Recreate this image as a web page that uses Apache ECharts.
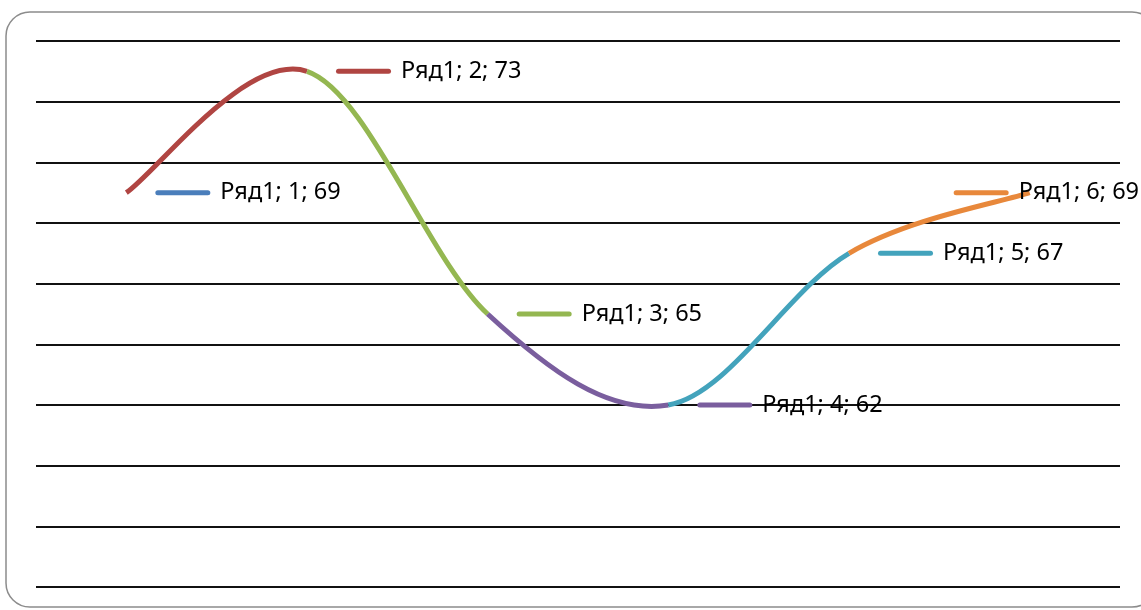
<!DOCTYPE html>
<html>
<head>
<meta charset="utf-8">
<script src="https://cdn.jsdelivr.net/npm/echarts@6/dist/echarts.min.js"></script>
<style>
  html, body { margin: 0; padding: 0; background: #ffffff; }
  #chart { width: 1141px; height: 610px; }
</style>
</head>
<body>
<div id="chart"></div>
<script>
// Series data
const seriesName = 'Ряд1';
const categories = ['1', '2', '3', '4', '5', '6'];
const values = [69, 73, 65, 62, 67, 69];
const pointColors = ['#4A7EBB', '#B04542', '#94B751', '#7A5E9E', '#43A3BC', '#E8883B'];

// Value axis range
const yMin = 56;
const yMax = 74;
const yStep = 2;

const chart = echarts.init(document.getElementById('chart'), null, { renderer: 'canvas' });

// Smoothed curve: one Bézier piece per pair of neighbouring points,
// tangents taken from the surrounding points (Catmull-Rom, factor 1/6).
// Each piece takes the colour of the point it ends on.
const SMOOTH_K = 1 / 6;
function renderSegment(params, api) {
  const i = params.dataIndex;
  if (i === 0) return null;
  const n = values.length;
  const pt = (j) => {
    const k = Math.max(0, Math.min(n - 1, j));
    return api.coord([api.value(0, k), api.value(1, k)]);
  };
  const p0 = pt(i - 2), p1 = pt(i - 1), p2 = pt(i), p3 = pt(i + 1);
  return {
    type: 'bezierCurve',
    shape: {
      x1: p1[0], y1: p1[1],
      cpx1: p1[0] + (p2[0] - p0[0]) * SMOOTH_K,
      cpy1: p1[1] + (p2[1] - p0[1]) * SMOOTH_K,
      cpx2: p2[0] - (p3[0] - p1[0]) * SMOOTH_K,
      cpy2: p2[1] - (p3[1] - p1[1]) * SMOOTH_K,
      x2: p2[0], y2: p2[1]
    },
    style: { stroke: pointColors[i], lineWidth: 5, fill: null, lineCap: 'butt' },
    silent: true
  };
}

// Data labels: colour key followed by "series; category; value"
const labelData = values.map((v, i) => {
  const item = {
    value: v,
    label: {
      rich: {
        k: {
          width: 55, height: 5, borderRadius: 3,
          backgroundColor: pointColors[i], verticalAlign: 'middle'
        },
        t: {
          fontFamily: 'Noto Sans', fontSize: 23.5, color: '#000',
          padding: [0, 0, 0, 10], verticalAlign: 'middle'
        }
      }
    }
  };
  if (i === values.length - 1) item.label.offset = [-105, 0];
  return item;
});

chart.setOption({
  animation: false,
  graphic: [{
    type: 'rect',
    shape: { x: 6, y: 12, width: 1150, height: 595, r: 24 },
    style: { fill: 'none', stroke: '#8c8c8c', lineWidth: 1.5 },
    silent: true,
    z: -1
  }],
  grid: { left: 36, right: 21, top: 41, bottom: 23, containLabel: false },
  xAxis: {
    type: 'category',
    data: categories,
    boundaryGap: true,
    axisLine: { show: false },
    axisTick: { show: false },
    axisLabel: { show: false },
    splitLine: { show: false }
  },
  yAxis: {
    type: 'value',
    min: yMin, max: yMax, interval: yStep,
    axisLine: { show: false },
    axisTick: { show: false },
    axisLabel: { show: false },
    splitLine: { lineStyle: { color: '#111', width: 2 } }
  },
  series: [
    {
      name: seriesName,
      type: 'custom',
      renderItem: renderSegment,
      data: values.map((v, i) => [i, v]),
      encode: { x: 0, y: 1 },
      clip: false,
      z: 3
    },
    {
      name: seriesName,
      type: 'line',
      data: labelData,
      symbol: 'circle',
      symbolSize: 4,
      itemStyle: { opacity: 0 },
      lineStyle: { opacity: 0, width: 0 },
      label: {
        show: true,
        position: 'right',
        distance: 27,
        opacity: 1,
        formatter: (p) => '{k|}{t|' + seriesName + '; ' + p.name + '; ' + p.value + '}'
      },
      emphasis: { disabled: true },
      silent: true,
      z: 4
    }
  ]
});
</script>
</body>
</html>
